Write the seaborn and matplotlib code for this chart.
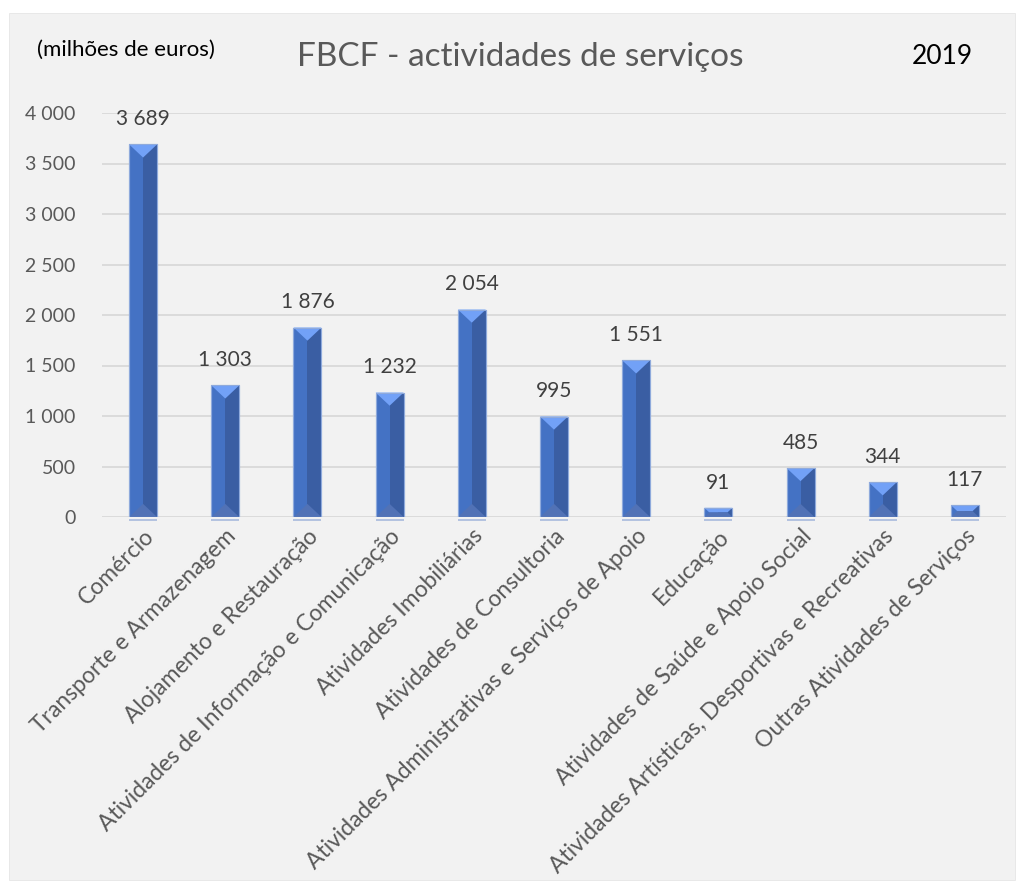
import matplotlib
matplotlib.use("Agg")
import matplotlib.pyplot as plt
import seaborn as sns
import pandas as pd
from matplotlib.patches import Rectangle, Polygon

categories = [
    "Comércio",
    "Transporte e Armazenagem",
    "Alojamento e Restauração",
    "Atividades de Informação e Comunicação",
    "Atividades Imobiliárias",
    "Atividades de Consultoria",
    "Atividades Administrativas e Serviços de Apoio",
    "Educação",
    "Atividades de Saúde e Apoio Social",
    "Atividades Artísticas, Desportivas e Recreativas",
    "Outras Atividades de Serviços",
]
values = [3689, 1303, 1876, 1232, 2054, 995, 1551, 91, 485, 344, 117]
yticks = [0, 500, 1000, 1500, 2000, 2500, 3000, 3500, 4000]

title = "FBCF - actividades de serviços"
unit_label = "(milhões de euros)"
year_label = "2019"

def fmt(v):
    return f"{v:,}".replace(",", " ")

sns.set_theme(style="white")
plt.rcParams["font.family"] = ["Lato", "DejaVu Sans"]

fig = plt.figure(figsize=(10.21, 8.86), dpi=100)
fig.patch.set_facecolor("white")
bg = Rectangle((9 / 1021, 6 / 886), 1006 / 1021, 867 / 886, transform=fig.transFigure,
               facecolor="#f2f2f2", edgecolor="#e6e6e6", lw=0.6, zorder=-10)
fig.patches.append(bg)

ax = fig.add_axes([102 / 1021, (886 - 517) / 886, 904 / 1021, 404 / 886])
ax.set_facecolor("none")

df = pd.DataFrame({"cat": categories, "val": values})
sns.barplot(data=df, x="cat", y="val", color="#4472c4", width=0.34, saturation=1,
            edgecolor="#8faadc", linewidth=0.8, ax=ax, zorder=3)

ax.set_ylim(0, 4000)
ax.set_yticks(yticks)
ax.set_yticklabels([fmt(t) for t in yticks])
ax.yaxis.grid(True, color="#d9d9d9", lw=1.3, zorder=0)
ax.set_axisbelow(True)
for s in ax.spines.values():
    s.set_visible(False)
ax.set_xlabel("")
ax.set_ylabel("")
ax.tick_params(axis="y", length=0, pad=19, labelsize=14, labelcolor="#595959")
ax.tick_params(axis="x", length=0, pad=6, labelsize=16.5, labelcolor="#595959")
for lab in ax.get_xticklabels():
    lab.set_rotation(45)
    lab.set_ha("right")
    lab.set_rotation_mode("anchor")
    lab.set_va("top")
    lab.set_x(lab.get_position()[0] + 0.1)

d = 130.0
for p, v in zip(ax.patches, values):
    x = p.get_x(); w = p.get_width(); h = p.get_height()
    ax.add_patch(Rectangle((x + w / 2, 0), w / 2, h, facecolor="#3a5ea3", edgecolor="none", zorder=4))
    depth = min(d, h / 2)
    inset = depth / d * w / 2
    top = Polygon([(x, h), (x + w, h), (x + w - inset, h - depth), (x + inset, h - depth)],
                  closed=True, facecolor="#72a1f7", edgecolor="none", zorder=5)
    bot = Polygon([(x, 0), (x + w, 0), (x + w - inset, depth), (x + inset, depth)],
                  closed=True, facecolor="#5172b6", edgecolor="none", zorder=5)
    ax.add_patch(top)
    ax.add_patch(bot)
    ax.add_patch(Rectangle((x, 0), w, h, facecolor="none", edgecolor="#8faadc", lw=0.8, zorder=6))
    ax.add_patch(Rectangle((x, -38), w, 18, facecolor="#b4c3e0", edgecolor="none", zorder=6, clip_on=False))
    ax.annotate(fmt(v), (x + w / 2, h), xytext=(0, 11), textcoords="offset points",
                ha="center", va="bottom", fontsize=15, color="#404040")

fig.text(0.510, 0.9357, title, ha="center", va="center", fontsize=24, color="#595959")
fig.text(37 / 1021, 0.9436, unit_label, ha="left", va="center", fontsize=16, color="black")
fig.text(942 / 1021, 0.9357, year_label, ha="center", va="center", fontsize=19, color="black")

fig.savefig("out.png", dpi=100, facecolor="white")
